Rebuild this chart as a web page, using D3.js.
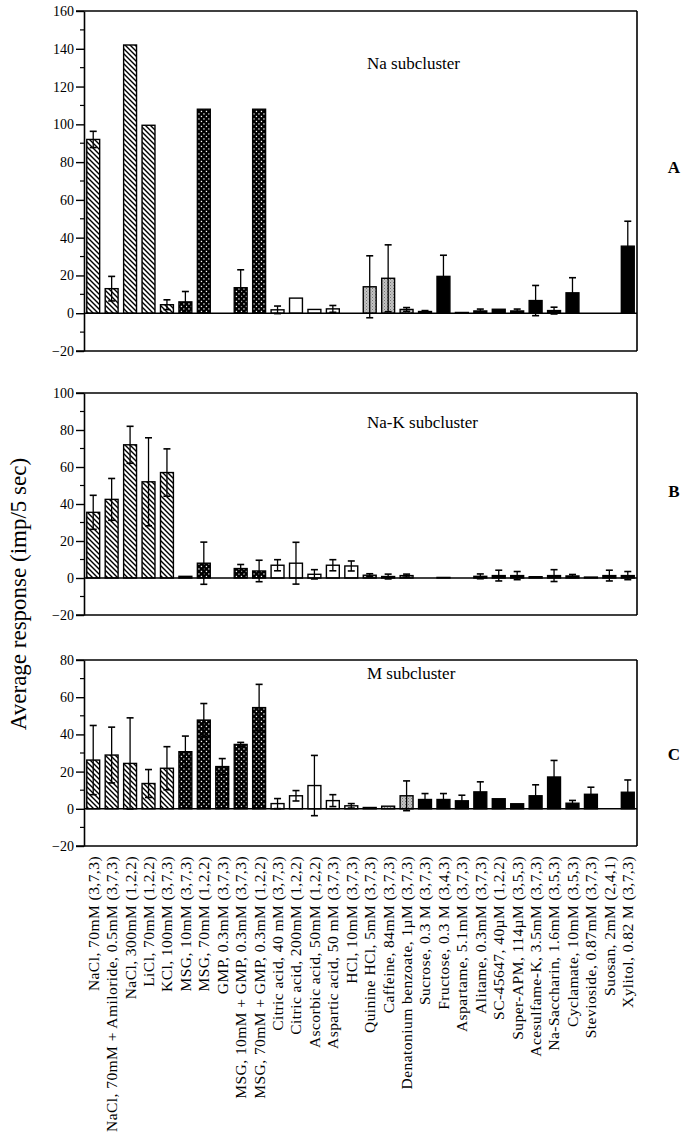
<!DOCTYPE html>
<html>
<head>
<meta charset="utf-8">
<script src="https://cdn.jsdelivr.net/npm/d3@7"></script>
<style>
  html, body { margin: 0; padding: 0; background: #fff; }
  svg { display: block; }
  text { font-family: "Liberation Serif", "Times New Roman", serif; fill: #000; }
</style>
</head>
<body>
<svg id="chart" width="685" height="1142"></svg>
<script>
// ---------------- DATA ----------------
const categories = [
  "NaCl, 70mM (3,7,3)",
  "NaCl, 70mM + Amiloride, 0.5mM (3,7,3)",
  "NaCl, 300mM (1,2,2)",
  "LiCl, 70mM (1,2,2)",
  "KCl, 100mM (3,7,3)",
  "MSG, 10mM (3,7,3)",
  "MSG, 70mM (1,2,2)",
  "GMP, 0.3mM (3,7,3)",
  "MSG, 10mM + GMP, 0.3mM (3,7,3)",
  "MSG, 70mM + GMP, 0.3mM (1,2,2)",
  "Citric acid, 40 mM (3,7,3)",
  "Citric acid, 200mM (1,2,2)",
  "Ascorbic acid, 50mM (1,2,2)",
  "Aspartic acid, 50 mM (3,7,3)",
  "HCl, 10mM (3,7,3)",
  "Quinine HCl, 5mM (3,7,3)",
  "Caffeine, 84mM (3,7,3)",
  "Denatonium benzoate, 1µM (3,7,3)",
  "Sucrose, 0.3 M (3,7,3)",
  "Fructose, 0.3 M (3,4,3)",
  "Aspartame, 5.1mM (3,7,3)",
  "Alitame, 0.3mM (3,7,3)",
  "SC-45647, 40µM (1,2,2)",
  "Super-APM, 114µM (3,5,3)",
  "Acesulfame-K, 3.5mM (3,7,3)",
  "Na-Saccharin, 1.6mM (3,5,3)",
  "Cyclamate, 10mM (3,5,3)",
  "Stevioside, 0.87mM (3,7,3)",
  "Suosan, 2mM (2,4,1)",
  "Xylitol, 0.82 M (3,7,3)"
];

// stimulus class of each category (determines the bar fill)
const stimulusClass = [
  "salt","salt","salt","salt","salt",
  "umami","umami","umami","umami","umami",
  "acid","acid","acid","acid","acid",
  "bitter","bitter","bitter",
  "sweet","sweet","sweet","sweet","sweet","sweet","sweet","sweet","sweet","sweet","sweet","sweet"
];

// Panel A : Na subcluster
const valuesA = [92, 13, 142, 99.5, 4.5, 6, 108, null, 13.5, 108,
                 1.8, 8, 2, 2.3, null, 14, 18.5, 2, 0.9, 19.5,
                 0.4, 1.2, 2.1, 1.2, 6.7, 1.4, 10.8, null, null, 35.5];
const errorsA = [4.3, 6.5, 0, 0, 2.6, 5.5, 0, 0, 9.5, 0,
                 2, 0, 0, 1.8, 0, 16.4, 17.7, 1, 0.5, 11.2,
                 0, 1, 0, 1, 8, 1.8, 8, 0, 0, 13.2];

// Panel B : Na-K subcluster
const valuesB = [35.5, 42.5, 72, 52, 57, 0.9, 8, null, 5.1, 3.8,
                 6.9, 8, 2, 6.9, 6.5, 1.5, 0.8, 1.3, null, 0.3,
                 null, 0.9, 1.3, 1.3, 0.7, 1.3, 1.1, 0.5, 1.3, 1.3];
const errorsB = [9.2, 11.3, 10, 23.8, 12.8, 0, 11.4, 0, 2.2, 5.8,
                 3, 11.3, 2.5, 3, 2.7, 0.8, 1.3, 0.8, 0, 0,
                 0, 1.3, 2.9, 2.2, 0, 3.2, 0.8, 0, 2.9, 2.2];

// Panel C : M subcluster
const valuesC = [26.2, 28.9, 24.4, 13.6, 21.8, 30.7, 47.7, 22.7, 34.6, 54.4,
                 2.8, 7, 12.5, 4.4, 1.6, 0.7, 1.4, 7, 5, 5,
                 4.3, 9.1, 5.4, 2.7, 7, 17.1, 3, 7.8, null, 8.9];
const errorsC = [18.6, 15, 24.5, 7.5, 11.6, 8.4, 8.9, 4.3, 1.1, 12.5,
                 2.7, 2.8, 16.2, 3.2, 1.2, 0, 0, 8, 3.2, 3.2,
                 3, 5.4, 0, 0, 5.9, 8.9, 1.5, 3.8, 0, 6.6];

const panelTitles = ["Na subcluster", "Na-K subcluster", "M subcluster"];
const panelLetters = ["A", "B", "C"];
const yDomains = [[-20, 160], [-20, 100], [-20, 80]];
const yTicks = [
  [-20, 0, 20, 40, 60, 80, 100, 120, 140, 160],
  [-20, 0, 20, 40, 60, 80, 100],
  [-20, 0, 20, 40, 60, 80]
];
const yAxisTitle = "Average response (imp/5 sec)";

// ---------------- LAYOUT ----------------
const svg = d3.select("#chart");
const left = 84, right = 637;
const panelRanges = [[351, 11], [615, 393], [846, 660]];
const labelTop = 856;

const x = d3.scaleBand().domain(categories).range([left, right])
  .paddingInner(0.3).paddingOuter(0.15);

// patterns
const defs = svg.append("defs");
const hatch = defs.append("pattern").attr("id", "hatch")
  .attr("patternUnits", "userSpaceOnUse").attr("width", 5).attr("height", 5);
hatch.append("rect").attr("width", 5).attr("height", 5).attr("fill", "#fff");
hatch.append("path").attr("d", "M-1,-1 L6,6 M-1,4 L1,6 M4,-1 L6,1")
  .attr("stroke", "#000").attr("stroke-width", 1.4);

const dots = defs.append("pattern").attr("id", "dots")
  .attr("patternUnits", "userSpaceOnUse").attr("width", 5).attr("height", 5);
dots.append("rect").attr("width", 5).attr("height", 5).attr("fill", "#000");
dots.append("rect").attr("x", 0.8).attr("y", 0.8).attr("width", 1.3).attr("height", 1.3).attr("fill", "#fff");
dots.append("rect").attr("x", 3.3).attr("y", 3.3).attr("width", 1.3).attr("height", 1.3).attr("fill", "#fff");

const stip = defs.append("pattern").attr("id", "stip")
  .attr("patternUnits", "userSpaceOnUse").attr("width", 3).attr("height", 3);
stip.append("rect").attr("width", 3).attr("height", 3).attr("fill", "#c4c4c4");
stip.append("rect").attr("x", 0).attr("y", 0).attr("width", 1).attr("height", 1).attr("fill", "#777");
stip.append("rect").attr("x", 1.5).attr("y", 1.5).attr("width", 1).attr("height", 1).attr("fill", "#8a8a8a");

const fillFor = {
  salt: "url(#hatch)", umami: "url(#dots)", acid: "#fff", bitter: "url(#stip)", sweet: "#000"
};

const panelData = [[valuesA, errorsA], [valuesB, errorsB], [valuesC, errorsC]];

panelData.forEach(([vals, errs], p) => {
  const y = d3.scaleLinear().domain(yDomains[p]).range(panelRanges[p]);
  const g = svg.append("g");
  const [y0, y1] = yDomains[p];

  // minor ticks
  const minor = d3.range(y0, y1 + 1, 10).filter(v => v % 20 !== 0);
  g.selectAll("line.minor").data(minor).join("line")
    .attr("x1", left - 4).attr("x2", left).attr("y1", d => y(d)).attr("y2", d => y(d))
    .attr("stroke", "#000").attr("stroke-width", 1.2);

  // major axis
  const axis = d3.axisLeft(y).tickValues(yTicks[p]).tickSize(8).tickPadding(2).tickSizeOuter(0);
  const ag = g.append("g").attr("transform", `translate(${left},0)`).call(axis);
  ag.select(".domain").attr("stroke", "#000").attr("stroke-width", 1.6);
  ag.selectAll(".tick line").attr("stroke", "#000").attr("stroke-width", 1.4);
  ag.selectAll(".tick text").attr("font-size", 14)
    .attr("font-family", "Liberation Serif, serif").attr("fill", "#000");

  // frame (top, right, bottom)
  g.append("line").attr("x1", left - 8).attr("x2", right).attr("y1", y(y1)).attr("y2", y(y1))
    .attr("stroke", "#000").attr("stroke-width", 1.6);
  g.append("line").attr("x1", left - 8).attr("x2", right).attr("y1", y(y0)).attr("y2", y(y0))
    .attr("stroke", "#000").attr("stroke-width", 1.6);
  g.append("line").attr("x1", right).attr("x2", right).attr("y1", y(y1)).attr("y2", y(y0))
    .attr("stroke", "#000").attr("stroke-width", 1.6);

  const rows = categories.map((c, i) => ({c, v: vals[i], e: errs[i], k: stimulusClass[i]}))
    .filter(d => d.v !== null);

  // bars
  g.selectAll("rect.bar").data(rows).join("rect")
    .attr("x", d => x(d.c)).attr("width", x.bandwidth())
    .attr("y", d => y(Math.max(0, d.v))).attr("height", d => Math.abs(y(d.v) - y(0)))
    .attr("fill", d => fillFor[d.k]).attr("stroke", "#000").attr("stroke-width", 1.4);

  // zero line
  g.append("line").attr("x1", left).attr("x2", right).attr("y1", y(0)).attr("y2", y(0))
    .attr("stroke", "#000").attr("stroke-width", 1.6);

  // error bars
  const eb = rows.filter(d => d.e > 0);
  const cx = d => x(d.c) + x.bandwidth() / 2;
  const cap = 3.5;
  g.selectAll("line.err").data(eb).join("line")
    .attr("x1", cx).attr("x2", cx).attr("y1", d => y(d.v - d.e)).attr("y2", d => y(d.v + d.e))
    .attr("stroke", "#000").attr("stroke-width", 1.3);
  g.selectAll("line.capt").data(eb).join("line")
    .attr("x1", d => cx(d) - cap).attr("x2", d => cx(d) + cap)
    .attr("y1", d => y(d.v + d.e)).attr("y2", d => y(d.v + d.e))
    .attr("stroke", "#000").attr("stroke-width", 1.6);
  g.selectAll("line.capb").data(eb).join("line")
    .attr("x1", d => cx(d) - cap).attr("x2", d => cx(d) + cap)
    .attr("y1", d => y(d.v - d.e)).attr("y2", d => y(d.v - d.e))
    .attr("stroke", "#000").attr("stroke-width", 1.6);

  // panel title and letter
  const titleY = [63, 422, 673][p];
  g.append("text").attr("x", 367).attr("y", titleY).attr("dy", "0.35em")
    .attr("font-size", 17).text(panelTitles[p]);
  const letterY = [167, 491, 754][p];
  g.append("text").attr("x", 674).attr("y", letterY).attr("dy", "0.35em")
    .attr("text-anchor", "middle").attr("font-size", 17).attr("font-weight", "bold")
    .text(panelLetters[p]);
});

// category labels (rotated)
svg.append("g").selectAll("text").data(categories).join("text")
  .attr("transform", d => `translate(${x(d) + x.bandwidth() / 2},${labelTop}) rotate(-90)`)
  .attr("text-anchor", "end").attr("dy", "0.35em").attr("font-size", 15.5)
  .attr("letter-spacing", 0.45)
  .text(d => d);

// y-axis title
svg.append("text")
  .attr("transform", `translate(18,594) rotate(-90)`)
  .attr("text-anchor", "middle").attr("dy", "0.35em").attr("font-size", 23)
  .text(yAxisTitle);
</script>
</body>
</html>
